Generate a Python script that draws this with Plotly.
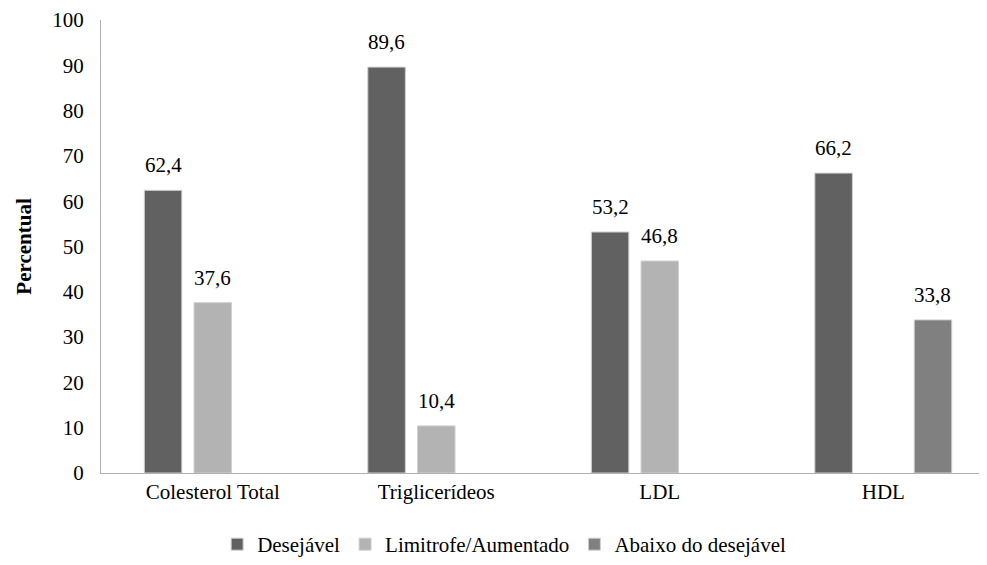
import plotly.graph_objects as go

categories = ["Colesterol Total", "Triglicerídeos", "LDL", "HDL"]
series_names = ["Desejável", "Limitrofe/Aumentado", "Abaixo do desejável"]
desejavel = [62.4, 89.6, 53.2, 66.2]
limitrofe = [37.6, 10.4, 46.8, None]
abaixo = [None, None, None, 33.8]
y_ticks = [0, 10, 20, 30, 40, 50, 60, 70, 80, 90, 100]

colors = ["#616161", "#b3b3b3", "#808080"]
series_values = [desejavel, limitrofe, abaixo]

FONT = "Liberation Serif"
FS = 21

fig = go.Figure()
for name, vals, col in zip(series_names, series_values, colors):
    fig.add_trace(go.Bar(
        name=name, x=categories, y=vals,
        marker=dict(color=col, line=dict(color="#d0d0d0", width=1)),
    ))

slot_px = 49.7
annotations = []
for i, vals in enumerate(series_values):
    for cat, v in zip(categories, vals):
        if v is None:
            continue
        annotations.append(dict(
            x=cat, y=v, xref="x", yref="y",
            text=f"{v:.1f}".replace(".", ","),
            showarrow=False, yanchor="bottom",
            xshift=(i - 1) * slot_px, yshift=11,
            font=dict(family=FONT, size=FS, color="#000000"),
        ))

fig.update_layout(
    width=979, height=557,
    margin=dict(l=93, r=0, t=12, b=89),
    paper_bgcolor="white", plot_bgcolor="white",
    barmode="group", bargap=0.333, bargroupgap=0.245,
    font=dict(family=FONT, size=FS, color="#000000"),
    annotations=annotations,
    legend=dict(orientation="h", x=0.455, xanchor="center", y=-0.158, yanchor="middle",
                font=dict(family=FONT, size=FS), itemwidth=30, traceorder="normal"),
    xaxis=dict(range=[-0.5, 3.464], showline=True, linecolor="#b0b0b0", linewidth=1,
               ticks="", showgrid=False, tickfont=dict(family=FONT, size=FS)),
    yaxis=dict(range=[0, 100], tickvals=y_ticks, showline=True, linecolor="#b0b0b0",
               linewidth=1, ticks="", showgrid=False, zeroline=False,
               tickfont=dict(family=FONT, size=FS), ticklabelstandoff=12,
               title=dict(text="<b>Percentual</b>", font=dict(family=FONT, size=FS), standoff=14)),
)

fig.write_html("out.html")
